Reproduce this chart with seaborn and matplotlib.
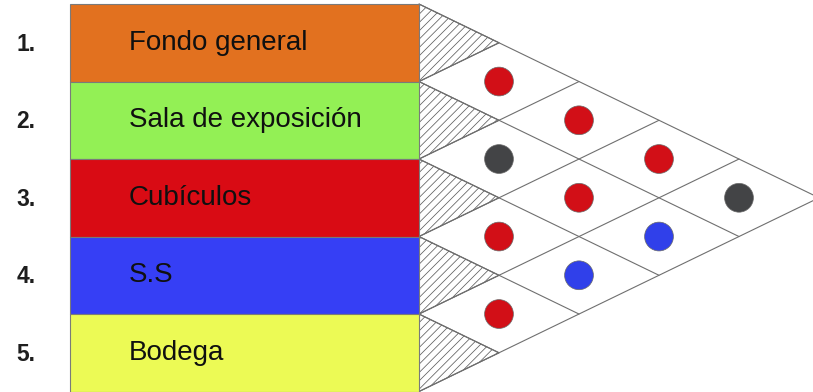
import pandas as pd
import seaborn as sns
import matplotlib.pyplot as plt
from matplotlib.patches import Polygon

# Areas of the relationship chart
numeros = ["1.", "2.", "3.", "4.", "5."]
areas = ["Fondo general", "Sala de exposición", "Cubículos", "S.S", "Bodega"]
colores_area = ["#e2711f", "#93f055", "#d90b14", "#363ff5", "#ecfa55"]

# Relationships between pairs of areas (i, j) and their colour code
par_i = [1, 1, 2, 1, 2, 1, 3, 2, 3, 4]
par_j = [2, 3, 3, 4, 4, 5, 4, 5, 5, 5]
relacion = ["rojo", "rojo", "negro", "rojo", "rojo", "negro", "rojo", "azul", "azul", "rojo"]
paleta = {"rojo": "#d20f17", "negro": "#434446", "azul": "#3040ea"}

sns.set_theme(style="white")
plt.rcParams["font.family"] = ["Liberation Sans", "DejaVu Sans"]
plt.rcParams["hatch.linewidth"] = 0.55

fig = plt.figure(figsize=(8.13, 3.92), dpi=100)
ax = fig.add_axes([0, 0, 1, 1])

n = len(areas)
filas = list(range(1, n + 1))
izq = -4.3625

# coloured area bars
ax.barh(filas, [-izq] * n, left=izq, height=1, color=colores_area,
        edgecolor="#7a7a7a", linewidth=0.8, zorder=2)

for f, num, nom in zip(filas, numeros, areas):
    ax.text(-5.03, f + 0.02, num, fontsize=16.5, fontweight="bold", color="#1e1e1e",
            ha="left", va="center")
    ax.text(-3.63, f, nom, fontsize=20, color="#101010", ha="left", va="center")

linea = dict(color="#6f6f6f", linewidth=0.8, zorder=1)

# hatched triangles next to each area
for f in filas:
    tri = Polygon([(0, f - 0.5), (1, f), (0, f + 0.5)], closed=True,
                  facecolor="white", edgecolor="#5e5e5e", hatch="////",
                  linewidth=0.8, zorder=1)
    ax.add_patch(tri)

# diamond grid lines
for k in range(n):
    ax.plot([0, n - k], [k + 0.5, k + 0.5 + (n - k) / 2], **linea)
for k in range(1, n + 1):
    ax.plot([0, k], [k + 0.5, k + 0.5 - k / 2], **linea)

df = pd.DataFrame({"i": par_i, "j": par_j, "rel": relacion})
df["x"] = df["j"] - df["i"]
df["y"] = (df["i"] + df["j"]) / 2
sns.scatterplot(data=df, x="x", y="y", hue="rel", palette=paleta, s=430,
                edgecolor="#6a6a6a", linewidth=0.5, legend=False, ax=ax, zorder=3)

ax.set_xlim(-5.2375, 4.925)
ax.set_ylim(5.506, 0.448)
ax.axis("off")

fig.savefig("out.png", dpi=100)
